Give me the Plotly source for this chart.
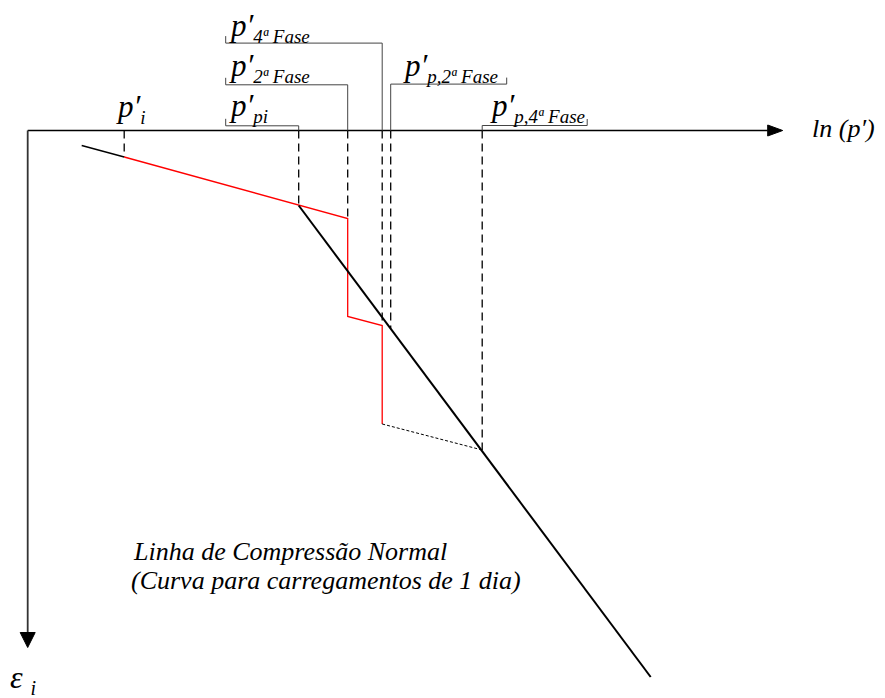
import plotly.graph_objects as go

# page size and where the ln(p') / eps axes cross (pixels)
W, H = 885, 698
X0, Y0 = 27.7, 130.5

# ln(p') stations, measured from the eps axis
ln_p_start = 54
ln_p_i = 96.5
ln_p_pi = 271
ln_p_2fase = 320
ln_p_4fase = 354.5
ln_p_p2fase = 363
ln_p_p4fase = 454.5
ln_p_end = 623

# strains, measured downwards from the ln(p') axis
eps_start = 15
eps_i = 26.5
eps_pi = 75
eps_2fase_ini = 88
eps_2fase_fim = 186
eps_4fase_ini = 195
eps_4fase_fim = 293.5
eps_p4fase = 319.5
eps_end = 546.5

# dashed projections down from the axis
proj_x = [ln_p_i, ln_p_pi, ln_p_2fase, ln_p_4fase, ln_p_p2fase, ln_p_p4fase]
proj_eps = [eps_i, eps_pi, eps_2fase_ini, eps_4fase_ini, 198, eps_p4fase]

FONT = "Liberation Serif"


def seg_trace(xs, ys, color, width, dash="solid"):
    return go.Scatter(x=xs, y=ys, mode="lines", hoverinfo="skip",
                      line=dict(color=color, width=width, dash=dash))


fig = go.Figure()

# axes
ax_len = 740
eps_len = 502
fig.add_trace(seg_trace([0, ax_len], [0, 0], "black", 1.5))
fig.add_trace(seg_trace([0, 0], [0, eps_len], "#333", 1.8))
# arrow heads
fig.add_trace(go.Scatter(x=[ax_len, ax_len + 15, ax_len, ax_len],
                         y=[-5.5, 0, 5.5, -5.5], mode="lines", fill="toself",
                         fillcolor="black", line=dict(color="black", width=1),
                         hoverinfo="skip"))
fig.add_trace(go.Scatter(x=[-7.5, 7.5, 0, -7.5],
                         y=[eps_len, eps_len, eps_len + 15, eps_len],
                         mode="lines", fill="toself", fillcolor="black",
                         line=dict(color="black", width=1), hoverinfo="skip"))

# dashed projections
dx, dy = [], []
for x, e in zip(proj_x, proj_eps):
    dx += [x, x, None]
    dy += [0, e, None]
fig.add_trace(seg_trace(dx, dy, "black", 1.3, "8px,5px"))

# brackets joining labels to the axis
bx, by = [], []
left = 198
for x, lvl in [(ln_p_pi, -4.7), (ln_p_2fase, -45.7), (ln_p_4fase, -87.4)]:
    bx += [left, left, x, x, None]
    by += [lvl - 7, lvl, lvl, 0, None]
for x, lvl, right in [(ln_p_p2fase, -46.4, 479), (ln_p_p4fase, -5, 559.5)]:
    bx += [x, x, right, right, None]
    by += [0, lvl, lvl, lvl - 6.5, None]
fig.add_trace(seg_trace(bx, by, "#444", 1))

# first loading (black) then creep / reloading path (red)
fig.add_trace(seg_trace([ln_p_start, ln_p_i], [eps_start, eps_i], "black", 1.3))
fig.add_trace(seg_trace(
    [ln_p_i, ln_p_pi, ln_p_2fase, ln_p_2fase, ln_p_4fase, ln_p_4fase],
    [eps_i, eps_pi, eps_2fase_ini, eps_2fase_fim, eps_4fase_ini, eps_4fase_fim],
    "red", 1.3))
fig.add_trace(seg_trace([ln_p_4fase, ln_p_p4fase], [eps_4fase_fim, eps_p4fase],
                        "black", 1, "3px,2px"))
# normal compression line
fig.add_trace(seg_trace([ln_p_pi, ln_p_end], [eps_pi, eps_end], "black", 2))


def sub(t, size=19):
    return '<sub><span style="font-size:%dpx">%s</span></sub>' % (size, t)


labels = [
    (114, 108, "<i>p′" + sub("i") + "</i>"),
    (227, 107, "<i>p′" + sub("pi") + "</i>"),
    (227, 67, "<i>p′" + sub("2ª Fase") + "</i>"),
    (227, 27, "<i>p′" + sub("4ª Fase") + "</i>"),
    (401, 67, "<i>p′" + sub("p,2ª Fase") + "</i>"),
    (488, 107, "<i>p′" + sub("p,4ª Fase") + "</i>"),
]
for px, py, t in labels:
    fig.add_annotation(x=px - X0, y=py - Y0, text=t, showarrow=False,
                       xanchor="left", yanchor="middle",
                       font=dict(family=FONT, size=31, color="black"))

fig.add_annotation(x=810 - X0, y=128 - Y0, text="<i>ln (p′)</i>", showarrow=False,
                   xanchor="left", yanchor="middle",
                   font=dict(family=FONT, size=26, color="black"))
fig.add_annotation(x=8 - X0, y=679 - Y0, text="<i>ε</i> " + sub("<i>i</i>", 20),
                   showarrow=False, xanchor="left", yanchor="middle",
                   font=dict(family=FONT, size=32, color="black"))
fig.add_annotation(x=131 - X0, y=551 - Y0, text="<i>Linha de Compressão Normal</i>",
                   showarrow=False, xanchor="left", yanchor="middle",
                   font=dict(family=FONT, size=26, color="black"))
fig.add_annotation(x=129 - X0, y=580 - Y0,
                   text="<i>(Curva para carregamentos de 1 dia)</i>",
                   showarrow=False, xanchor="left", yanchor="middle",
                   font=dict(family=FONT, size=26, color="black"))

fig.update_layout(
    width=W, height=H, margin=dict(l=0, r=0, t=0, b=0),
    paper_bgcolor="white", plot_bgcolor="white", showlegend=False,
    xaxis=dict(range=[-X0, W - X0], visible=False, fixedrange=True),
    yaxis=dict(range=[H - Y0, -Y0], visible=False, fixedrange=True),
)

fig.write_html("out.html", config={"displayModeBar": False},
               post_script="document.body.style.margin='0';"
                           "document.body.style.overflow='hidden';")
